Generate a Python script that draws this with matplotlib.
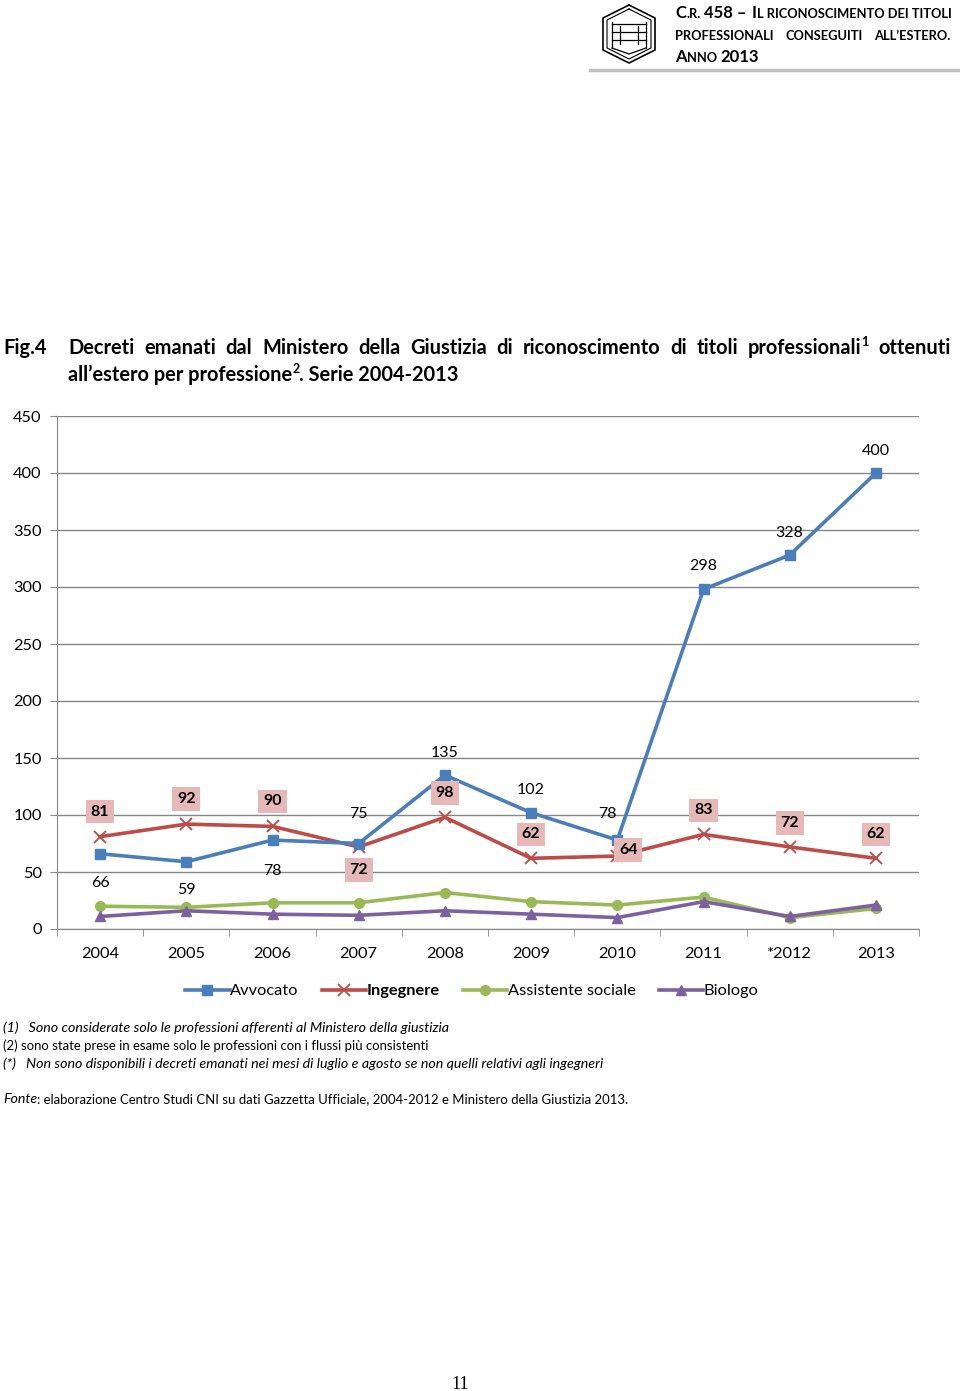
import matplotlib
matplotlib.use("Agg")
import matplotlib.pyplot as plt
from matplotlib.lines import Line2D

plt.rcParams['font.family'] = ['Lato', 'DejaVu Sans']

years = ["2004", "2005", "2006", "2007", "2008", "2009", "2010", "2011", "*2012", "2013"]
avvocato = [66, 59, 78, 75, 135, 102, 78, 298, 328, 400]
ingegnere = [81, 92, 90, 72, 98, 62, 64, 83, 72, 62]
assistente = [20, 19, 23, 23, 32, 24, 21, 28, 10, 18]
biologo = [11, 16, 13, 12, 16, 13, 10, 24, 11, 21]

# label offsets in pixels (style only)
avv_off = [(0, -29), (0, -28), (0, -31), (0, 29), (0, 22), (0, 23), (-10, 26), (0, 23), (0, 22), (0, 22)]
ing_off = [(0, 25), (0, 25), (0, 25), (0, -23), (0, 24), (0, 24), (11, 6), (0, 24), (0, 24), (0, 24)]

W, H = 960, 1391
fig = plt.figure(figsize=(W / 100, H / 100), dpi=100)
renderer = fig.canvas.get_renderer()


def fx(x):
    return x / W


def fy(y):
    return 1 - y / H


def runs(x, y, parts, **kw):
    # parts: (text, size, weight, style, dy)
    for text, size, weight, style, dy in parts:
        t = fig.text(fx(x), fy(y - dy), text, fontsize=size, fontweight=weight,
                     fontstyle=style, va='baseline', ha='left', **kw)
        x += t.get_window_extent(renderer).width
    return x


def justified(x0, x1, y, words, size, weight='bold'):
    # words: list of part-lists, spread evenly between x0 and x1
    widths = []
    for parts in words:
        w = 0
        for text, sz, dy in parts:
            t = fig.text(0, 0, text, fontsize=sz, fontweight=weight)
            w += t.get_window_extent(renderer).width
            t.remove()
        widths.append(w)
    gap = (x1 - x0 - sum(widths)) / (len(words) - 1)
    x = x0
    for parts, w in zip(words, widths):
        runs(x, y, [(t, sz, weight, 'normal', dy) for t, sz, dy in parts])
        x += w + gap


# header
hdr = dict(color='black')
big, sm = 12, 9.3
x = runs(675, 18, [("C", big, 'bold', 'normal', 0), (".R.", sm, 'bold', 'normal', 0)], **hdr)
x = runs(x + 4, 18, [("458 –", big, 'bold', 'normal', 0)], **hdr)
x = runs(x + 5, 18, [("I", big, 'bold', 'normal', 0), ("L RICONOSCIMENTO DEI TITOLI", sm, 'bold', 'normal', 0)], **hdr)
runs(675, 40, [("PROFESSIONALI", sm, 'bold', 'normal', 0)], **hdr)
runs(785, 40, [("CONSEGUITI", sm, 'bold', 'normal', 0)], **hdr)
runs(874, 40, [("ALL’ESTERO.", sm, 'bold', 'normal', 0)], **hdr)
x = runs(675, 62, [("A", big, 'bold', 'normal', 0), ("NNO", sm, 'bold', 'normal', 0)], **hdr)
runs(x + 4, 62, [("2013", big, 'bold', 'normal', 0)], **hdr)
fig.add_artist(Line2D([fx(590), fx(958)], [fy(70), fy(70)], color='#c0c0c0', lw=2.5))

# logo
lg = fig.add_axes([fx(598), fy(66), fx(62), 64 / H])
lg.set_xlim(0, 62)
lg.set_ylim(64, 0)
lg.axis('off')
hexx = [31, 57, 57, 31, 5, 5, 31]
hexy = [3, 16, 48, 61, 48, 16, 3]
lg.plot(hexx, hexy, color='black', lw=1.2)
lg.plot([31, 53, 53, 31, 9, 9, 31], [7, 18, 46, 57, 46, 18, 7], color='black', lw=0.8)
for yy in [22, 30, 38]:
    lg.plot([14, 48], [yy, yy], color='black', lw=0.9)
lg.plot([14, 14], [20, 46], color='black', lw=0.9)
lg.plot([48, 48], [20, 46], color='black', lw=0.9)
lg.plot([22, 22], [24, 42], color='black', lw=0.9)
lg.plot([40, 40], [24, 42], color='black', lw=0.9)
lg.plot([14, 31, 48], [46, 52, 46], color='black', lw=0.9)

# title
ts = 14.4
runs(3, 354, [("Fig.4", ts, 'bold', 'normal', 0)])
line1 = "Decreti emanati dal Ministero della Giustizia di riconoscimento di titoli".split()
words = [[(w, ts, 0)] for w in line1]
words.append([("professionali", ts, 0), ("1", 9, 8)])
words.append([("ottenuti", ts, 0)])
justified(68, 951, 354, words, ts)
runs(68, 381, [("all’estero per professione", ts, 'bold', 'normal', 0),
               ("2", 9, 'bold', 'normal', 8), (". Serie 2004-2013", ts, 'bold', 'normal', 0)])

# chart
ax = fig.add_axes([fx(57), fy(929), (919 - 57) / W, (929 - 416) / H])
xs = list(range(len(years)))
c_avv, c_ing, c_ass, c_bio = '#4a7ebb', '#be4b48', '#98b954', '#7d60a0'
ax.plot(xs, avvocato, color=c_avv, lw=2.6, marker='s', ms=7, label='Avvocato', zorder=5)
ax.plot(xs, ingegnere, color=c_ing, lw=2.6, marker='x', ms=9, mew=1.3, label='Ingegnere', zorder=4)
ax.plot(xs, assistente, color=c_ass, lw=2.6, marker='o', ms=7, label='Assistente sociale', zorder=3)
ax.plot(xs, biologo, color=c_bio, lw=2.6, marker='^', ms=7, label='Biologo', zorder=3)

for i, v in enumerate(avvocato):
    ax.annotate(str(v), (i, v), xytext=avv_off[i], textcoords='offset pixels',
                ha='center', va='center', fontsize=11.5, zorder=6)
for i, v in enumerate(ingegnere):
    ax.annotate(str(v), (i, v), xytext=ing_off[i], textcoords='offset pixels',
                ha='center', va='center', fontsize=11.5, fontweight='bold', zorder=6,
                bbox=dict(boxstyle='square,pad=0.3', fc='#e6b9b8', ec='none'))

ax.set_xlim(-0.5, len(years) - 0.5)
ax.set_ylim(0, 450)
ax.set_yticks(range(0, 451, 50))
ax.set_xticks(xs)
ax.set_xticklabels(years)
ax.set_xticks([i - 0.5 for i in range(len(years) + 1)], minor=True)
ax.tick_params(axis='x', which='major', length=0, pad=13, labelsize=11.8)
ax.tick_params(axis='x', which='minor', length=5, color='#868686', direction='out')
ax.tick_params(axis='y', length=5, color='#868686', pad=6, labelsize=11.8)
ax.grid(axis='y', color='#868686', lw=1)
ax.set_axisbelow(True)
for s in ['top', 'right']:
    ax.spines[s].set_visible(False)
for s in ['left', 'bottom']:
    ax.spines[s].set_color('#868686')

leg = fig.legend(loc='center', bbox_to_anchor=(fx(472), fy(991)), ncol=4, frameon=False,
                 fontsize=11.8, handlelength=2.7, handletextpad=0.05, columnspacing=1.4)
leg.get_texts()[1].set_fontweight('bold')

# notes
ni, nr = 10.3, 9.45
runs(3, 1032, [("(1)   Sono considerate solo le professioni afferenti al Ministero della giustizia", ni, 'normal', 'italic', 0)])
runs(3, 1050, [("(2) sono state prese in esame solo le professioni con i flussi più consistenti", nr, 'normal', 'normal', 0)])
runs(3, 1068, [("(*)   Non sono disponibili i decreti emanati nei mesi di luglio e agosto se non quelli relativi agli ingegneri", ni, 'normal', 'italic', 0)])
runs(3, 1103, [("Fonte", ni, 'normal', 'italic', 0),
               (": elaborazione Centro Studi CNI su dati Gazzetta Ufficiale, 2004-2012 e Ministero della Giustizia 2013.", nr, 'normal', 'normal', 0)])

fig.text(fx(460), fy(1389), "11", fontsize=13, family='Liberation Serif', ha='center', va='baseline')

fig.savefig("out.png", dpi=100)
